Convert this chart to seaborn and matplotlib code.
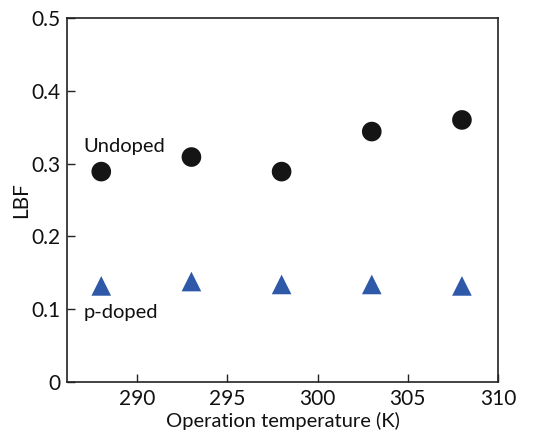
import matplotlib
matplotlib.use("Agg")
import matplotlib.pyplot as plt
import seaborn as sns
import pandas as pd

temperature = [288, 293, 298, 303, 308]
lbf_undoped = [0.289, 0.309, 0.289, 0.344, 0.360]
lbf_pdoped = [0.132, 0.138, 0.134, 0.134, 0.132]
x_ticks = [290, 295, 300, 305, 310]
y_ticks = [0, 0.1, 0.2, 0.3, 0.4, 0.5]
y_ticklabels = ["0", "0.1", "0.2", "0.3", "0.4", "0.5"]

sns.set_theme(style="white")
plt.rcParams["font.family"] = ["Lato", "DejaVu Sans"]

df = pd.concat([
    pd.DataFrame({"T": temperature, "LBF": lbf_undoped, "sample": "Undoped"}),
    pd.DataFrame({"T": temperature, "LBF": lbf_pdoped, "sample": "p-doped"}),
])

fig = plt.figure(figsize=(5.5, 4.34), dpi=100)
ax = fig.add_axes([67 / 550, 1 - 382 / 434, (498 - 67) / 550, (382 - 18) / 434])

sns.scatterplot(data=df, x="T", y="LBF", hue="sample", style="sample",
                palette={"Undoped": "#151515", "p-doped": "#2d59a8"},
                markers={"Undoped": "o", "p-doped": "^"},
                s=200, edgecolor="none", legend=False, ax=ax)

ax.set_xlim(286.1, 310)
ax.set_ylim(0, 0.5)
ax.set_xticks(x_ticks)
ax.set_xticklabels([str(t) for t in x_ticks])
ax.set_yticks(y_ticks)
ax.set_yticklabels(y_ticklabels)
ax.tick_params(direction="in", length=6, width=1, labelsize=15, colors="#222222",
               bottom=True, left=True, pad=5)
ax.tick_params(axis="both", labelcolor="#111111")
for sp in ax.spines.values():
    sp.set_color("#222222")
    sp.set_linewidth(1.2)

ax.set_xlabel("Operation temperature (K)", fontsize=14.5, color="#111111")
ax.xaxis.set_label_coords(0.5, -0.081)
ax.set_ylabel("LBF", fontsize=15, color="#111111")
ax.yaxis.set_label_coords(-0.084, 0.5)

ax.text(287.0, 0.323, "Undoped", fontsize=14.5, color="#111111", va="center", ha="left")
ax.text(287.0, 0.096, "p-doped", fontsize=14.5, color="#111111", va="center", ha="left")

fig.savefig("out.png", dpi=100)
